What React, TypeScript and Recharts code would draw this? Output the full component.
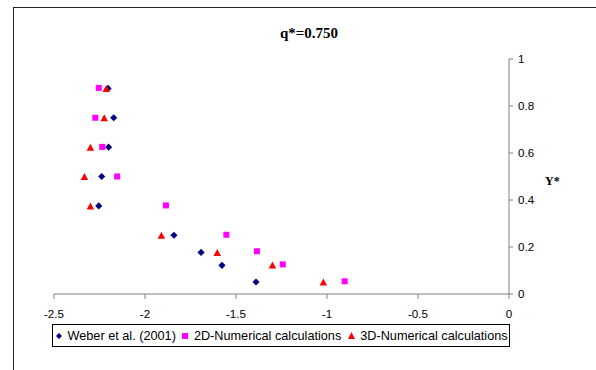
import React from 'react';
import { ScatterChart, Scatter, XAxis, YAxis, Legend } from 'recharts';

const xTicks = [-2.5, -2, -1.5, -1, -0.5, 0];
const yTicks = [0, 0.2, 0.4, 0.6, 0.8, 1];

const weberX = [-2.203, -2.172, -2.2, -2.238, -2.254, -1.841, -1.692, -1.577, -1.39];
const weberY = [0.875, 0.75, 0.625, 0.5, 0.375, 0.25, 0.177, 0.122, 0.051];

const num2dX = [-2.254, -2.273, -2.235, -2.153, -1.885, -1.553, -1.385, -1.243, -0.903];
const num2dY = [0.877, 0.75, 0.626, 0.5, 0.377, 0.252, 0.182, 0.126, 0.054];

const num3dX = [-2.213, -2.224, -2.3, -2.333, -2.3, -1.91, -1.603, -1.3, -1.02];
const num3dY = [0.875, 0.75, 0.625, 0.5, 0.375, 0.25, 0.177, 0.123, 0.051];

const seriesNames = ['Weber et al. (2001)', '2D-Numerical calculations', '3D-Numerical calculations'];
const seriesColors = ['#000080', '#FF00FF', '#FF0000'];

const toPoints = (xs: number[], ys: number[]) => xs.map((x, i) => ({ x, y: ys[i] }));
const weberData = toPoints(weberX, weberY);
const num2dData = toPoints(num2dX, num2dY);
const num3dData = toPoints(num3dX, num3dY);

const SANS = '"Liberation Sans", Arial, sans-serif';
const SERIF = '"Liberation Serif", "Times New Roman", serif';

const Diamond = (p: any) => {
  const { cx, cy } = p;
  const r = 3.6;
  return <polygon points={`${cx},${cy - r} ${cx + r},${cy} ${cx},${cy + r} ${cx - r},${cy}`} fill={seriesColors[0]} />;
};
const Square = (p: any) => {
  const { cx, cy } = p;
  const s = 6;
  return <rect x={cx - s / 2} y={cy - s / 2} width={s} height={s} fill={seriesColors[1]} />;
};
const Triangle = (p: any) => {
  const { cx, cy } = p;
  const w = 7.5;
  const h = 7;
  return <polygon points={`${cx},${cy - h / 2} ${cx + w / 2},${cy + h / 2} ${cx - w / 2},${cy + h / 2}`} fill={seriesColors[2]} />;
};

const LegendIcon = ({ idx }: { idx: number }) => {
  if (idx === 0) return <svg width="6" height="6"><polygon points="3,0 6,3 3,6 0,3" fill={seriesColors[0]} /></svg>;
  if (idx === 1) return <svg width="6" height="6"><rect x="0" y="0" width="6" height="6" fill={seriesColors[1]} /></svg>;
  return <svg width="7" height="7"><polygon points="3.5,0 7,7 0,7" fill={seriesColors[2]} /></svg>;
};

const LegendBox = () => (
  <div
    style={{
      border: '1px solid #000',
      height: 23,
      boxSizing: 'border-box',
      display: 'flex',
      alignItems: 'center',
      paddingLeft: 3,
      fontFamily: SANS,
      fontSize: 12.7,
      color: '#000',
      whiteSpace: 'nowrap',
      background: '#fff',
    }}
  >
    {seriesNames.map((n, i) => (
      <span key={n} style={{ display: 'flex', alignItems: 'center', marginRight: 6.5 }}>
        <LegendIcon idx={i} />
        <span style={{ marginLeft: 5.5 }}>{n}</span>
      </span>
    ))}
  </div>
);

const axisTick = { fill: '#000', fontSize: 11.6, fontFamily: SANS };

export default function App() {
  return (
    <div style={{ position: 'absolute', left: 0, top: 0, width: 596, height: 370, background: '#fff' }}>
      <div
        style={{
          position: 'absolute',
          left: 13,
          top: 7,
          width: 583,
          height: 363,
          borderLeft: '1px solid #222',
          borderTop: '1px solid #222',
        }}
      />
      <div
        style={{
          position: 'absolute',
          left: 209,
          width: 200,
          top: 26,
          textAlign: 'center',
          fontFamily: SERIF,
          fontWeight: 'bold',
          fontSize: 15,
          lineHeight: '15px',
          color: '#000',
        }}
      >
        q*=0.750
      </div>
      <ScatterChart width={596} height={370} margin={{ top: 59, right: 47, bottom: 46, left: 54 }}>
        <XAxis
          type="number"
          dataKey="x"
          domain={[-2.5, 0]}
          ticks={xTicks}
          tickSize={5}
          tickMargin={11}
          height={30}
          stroke="#808080"
          tickLine={{ stroke: '#808080' }}
          tick={axisTick}
          allowDataOverflow
        />
        <YAxis
          type="number"
          dataKey="y"
          orientation="right"
          domain={[0, 1]}
          ticks={yTicks}
          tickSize={4}
          tickMargin={5}
          width={40}
          stroke="#808080"
          tickLine={{ stroke: '#808080' }}
          tick={axisTick}
          allowDataOverflow
          label={(props: any) => {
            const vb = props.viewBox || {};
            return (
              <text
                x={(vb.x ?? 509) + 36}
                y={(vb.y ?? 59) + (vb.height ?? 235) / 2 + 8.5}
                textAnchor="start"
                fontFamily={SERIF}
                fontWeight="bold"
                fontSize={12}
                fill="#000"
              >
                Y*
              </text>
            );
          }}
        />
        <Legend
          layout="horizontal"
          verticalAlign="middle"
          align="center"
          wrapperStyle={{ top: 324, left: 52, width: 458, height: 23 }}
          content={() => <LegendBox />}
        />
        <Scatter name={seriesNames[0]} data={weberData} fill={seriesColors[0]} shape={Diamond} isAnimationActive={false} />
        <Scatter name={seriesNames[1]} data={num2dData} fill={seriesColors[1]} shape={Square} isAnimationActive={false} />
        <Scatter name={seriesNames[2]} data={num3dData} fill={seriesColors[2]} shape={Triangle} isAnimationActive={false} />
      </ScatterChart>
    </div>
  );
}
